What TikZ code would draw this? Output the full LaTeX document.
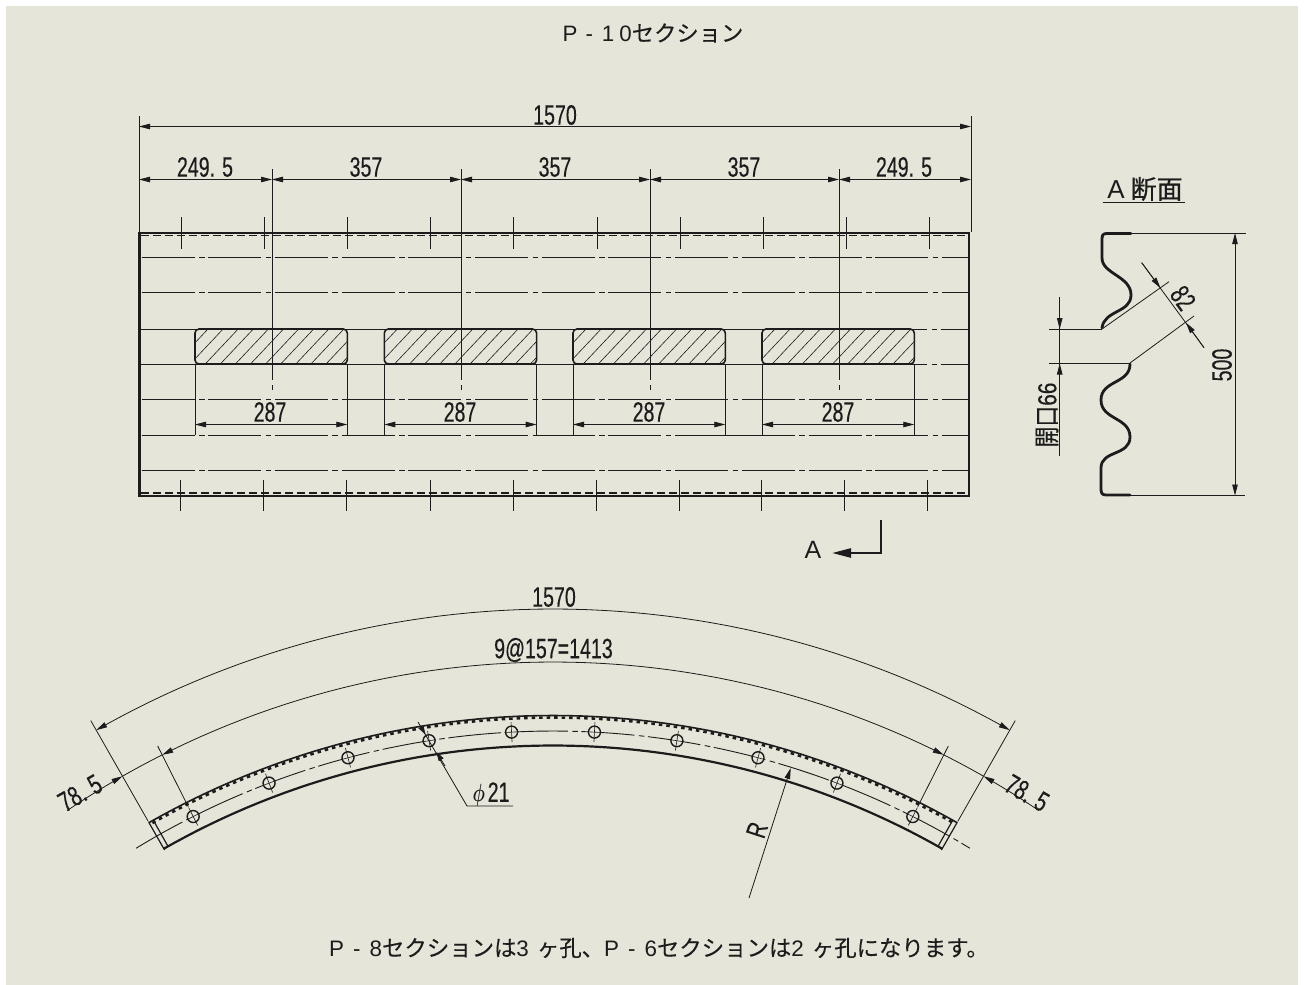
\documentclass[tikz,border=0pt]{standalone}
\usepackage{fontspec}
\setmainfont{Liberation Sans}
\newfontfamily\jp[FakeBold=.15]{Noto Sans CJK JP}
\newfontfamily\jpb[FakeBold=.4]{Noto Sans CJK JP}
\newfontfamily\dimfont[FakeBold=.35]{Liberation Sans}
\usetikzlibrary{arrows.meta}
\definecolor{paper}{HTML}{E6E5D9}
\definecolor{ink}{HTML}{1C1C1C}
\newcommand{\dimtext}[1]{\scalebox{.7}[1]{\fontsize{28}{28}\dimfont #1}}
\newcommand{\pol}[2]{({553+(#2)*sin(#1)},{1531-(#2)*cos(#1)})}
\tikzset{
  thin line/.style={draw=ink,line width=.8pt},
  dim/.style={thin line,{Triangle[length=11pt,width=5.5pt]}-{Triangle[length=11pt,width=5.5pt]}},
  onetip/.style={thin line,-{Triangle[length=11pt,width=5.5pt]}},
  chain/.style={draw=ink,line width=.9pt,dash pattern=on 53pt off 4.5pt on 5.5pt off 3.7pt},
  outline/.style={draw=ink,line width=2pt},
  hatch/.style={draw=ink,line width=.6pt},
  label/.style={inner sep=0pt,text=ink},
  profile/.style={draw=ink,line width=2.8pt,line cap=round,line join=round},
}
\begin{document}
\begin{tikzpicture}[x=1pt,y=-1pt]
\useasboundingbox (0,0) rectangle (1304,985);
\fill[white] (0,0) rectangle (1304,985);
\fill[paper] (6,6) rectangle (1298,985);

% title
\node[label,font=\fontsize{22.3}{23}\selectfont] (title) at (653,33) {P\kern8pt-\kern9pt1\kern5pt0{\jp セクション}};
\node[label,anchor=west,font=\fontsize{22.4}{23}\selectfont] (note) at (329,948)
  {P\kern9pt-\kern9pt8{\jp セクションは}3\kern8pt{\jp ヶ孔、}P\kern9pt-\kern9pt6{\jp セクションは}2\kern8pt{\jp ヶ孔になります。}};

% ===== top view =====
\draw[thin line] (139,116) -- (139,232);
\draw[thin line] (971,116) -- (971,232);
\draw[dim] (139,126.5) -- (971,126.5);
\node[label] (d1570a) at (555,115) {\dimtext{1570}};

\foreach \x in {272,461,650,839} {
  \draw[thin line] (\x,169) -- (\x,380);
  \draw[thin line] (\x,385) -- (\x,390);
}
\draw[dim] (139,179.5) -- (272,179.5);
\draw[dim] (272,179.5) -- (461,179.5);
\draw[dim] (461,179.5) -- (650,179.5);
\draw[dim] (650,179.5) -- (839,179.5);
\draw[dim] (839,179.5) -- (971,179.5);
\node[label] (dA) at (205,167) {\dimtext{249.\kern10pt5}};
\node[label] (dB) at (366,167) {\dimtext{357}};
\node[label] (dC) at (555,167) {\dimtext{357}};
\node[label] (dD) at (744,167) {\dimtext{357}};
\node[label] (dE) at (904,167) {\dimtext{249.\kern10pt5}};

% chain lines
\foreach \y in {257.5,292.5,399.5,435,470.5} \draw[chain] (141.5,\y) -- (968,\y);
\foreach \y in {329,364} {
  \draw[thin line] (141,\y) -- (914,\y);
  \draw[chain,dash phase=40pt] (914,\y) -- (968,\y);
}
\foreach \x in {347.3,536.7,725.5} \draw[thin line] (\x,435) -- ({\x+37},435);

% outer contour
\draw[draw=ink,line width=1.4pt] (138,233) -- (970,233);
\draw[draw=ink,line width=2pt] (138,495.5) -- (970,495.5);
\draw[draw=ink,line width=3pt] (139.5,232.5) -- (139.5,496);
\draw[draw=ink,line width=2.5pt] (969,232.5) -- (969,496);
\draw[draw=ink,line width=1.8pt,dash pattern=on 8pt off 4pt] (141,235.5) -- (968,235.5);
\draw[draw=ink,line width=1.8pt,dash pattern=on 8pt off 4pt] (141,493) -- (968,493);

% ticks
\foreach \x in {181,264,347.5,430.5,513.5,597,680,763,846,929} \draw[thin line] (\x,217) -- (\x,249);
\foreach \x in {180,263,346.5,430,513,596,679,761.5,844.5,927.5} \draw[thin line] (\x,480) -- (\x,511);

% slots
\foreach \sx/\nm/\cx in {195/a/270,384.3/b/460,573/c/649,762/d/838} {
  \begin{scope}
    \clip[rounded corners=4pt] (\sx,329) rectangle ++(152.3,35);
    \foreach \k in {0,...,12} \draw[hatch] ({\sx+15.1*\k-20},364) -- ++(33,-35);
  \end{scope}
  \draw[outline,rounded corners=4pt,line width=1.6pt] (\sx,329) rectangle ++(152.3,35);
  \draw[thin line] (\sx,364) -- (\sx,435);
  \draw[thin line] ({\sx+152.3},364) -- ({\sx+152.3},435);
  \draw[dim] (\sx,424.5) -- ({\sx+152.3},424.5);
  \node[label] (w\nm) at (\cx,412) {\dimtext{287}};
}

% section mark
\node[label,font=\fontsize{25}{25}\selectfont] (markA) at (813,550) {A};
\coordinate (markTop) at (881,520);
\coordinate (markCorner) at (881,553);
\coordinate (markTip) at (832,553);
\draw[draw=ink,line width=2.5pt,-{Triangle[length=19pt,width=9pt]}] (markTop) -- (markCorner) -- (markTip);

% ===== section A =====
\node[label,font=\fontsize{26}{26}\selectfont] (secA) at (1145,189) {A\kern6pt{\jpb 断面}};
\draw[thin line,line width=1pt] (1102.5,202) -- (1185,202);

\draw[profile] (1131,233.5) -- (1107,233.5) .. controls (1103,233.5) and (1102,235) .. (1102,239) -- (1102,258)
  .. controls (1102,274) and (1131,276) .. (1131,295)
  .. controls (1131,313) and (1104,310) .. (1102,328);
\draw[profile] (1130,364) .. controls (1130,384) and (1101,380) .. (1101,400)
  .. controls (1101,420) and (1130,417) .. (1130,437)
  .. controls (1130,456) and (1101,450) .. (1101,468) -- (1101,489)
  .. controls (1101,493) and (1102,495) .. (1106,495) -- (1130,495);

\draw[thin line] (1131,233) -- (1246,233);
\draw[thin line] (1130,495.5) -- (1245,495.5);
\draw[dim] (1235,233) -- (1235,495.5);
\node[label,rotate=90] (d500) at (1222,365) {\dimtext{500}};

\draw[thin line] (1049,329) -- (1102,329);
\draw[thin line] (1049,363.5) -- (1130,363.5);
\draw[thin line] (1059.7,297) -- (1059.7,456);
\draw[onetip] (1059.7,456) -- (1059.7,363.5);
\draw[onetip] (1059.7,297) -- (1059.7,329);
\node[label,rotate=90] (d66) at (1047,415) {\scalebox{.8}[1]{\fontsize{26}{26}\dimfont{\jpb 開口}66}};

\draw[thin line] (1102,329) -- (1169,281.7);
\draw[thin line] (1130,363) -- (1194,316);
\draw[thin line] (1141.7,262.7) -- (1204,347.7);
\draw[onetip] (1141.7,262.7) -- (1160.5,288);
\draw[onetip] (1204,347.7) -- (1186,322.7);
\node[label,rotate=-54] (d82) at (1183,298) {\dimtext{82}};

% ===== bent view =====
\draw[chain] plot[domain=-31.4:31.4,samples=160,variable=\t] ({553+800*sin(\t)},{1531-800*cos(\t)});
\draw[draw=ink,line width=1.6pt] plot[domain=-29.7:29.7,samples=160,variable=\t] ({553+815.5*sin(\t)},{1531-815.5*cos(\t)});
\draw[draw=ink,line width=2.6pt,dash pattern=on 3.5pt off 4pt] plot[domain=-29.5:29.5,samples=160,variable=\t] ({553+813.5*sin(\t)},{1531-813.5*cos(\t)});
\draw[draw=ink,line width=2.2pt] plot[domain=-29.7:29.7,samples=160,variable=\t] ({553+785.5*sin(\t)},{1531-785.5*cos(\t)});
\foreach \s in {-1,1} {
  \draw[draw=ink,line width=1.2pt] \pol{\s*29.7}{816} -- \pol{\s*29.7}{784};
  \draw[draw=ink,line width=1.2pt] \pol{\s*29.35}{816} -- \pol{\s*29.35}{785};
}
% holes
\foreach \a in {-26.73,-20.79,-14.85,-8.91,-2.97,2.97,8.91,14.85,20.79,26.73} {
  \filldraw[fill=paper,draw=ink,line width=1.4pt] \pol{\a}{800} circle[radius=6pt];
  \draw[draw=ink,line width=.6pt] \pol{\a}{790} -- \pol{\a}{810};
  \draw[draw=ink,line width=.6pt] \pol{\a-.5}{800} -- \pol{\a+.5}{800};
}
% extension lines
\foreach \s in {-1,1} {
  \draw[thin line] \pol{\s*29.7}{817} -- \pol{\s*29.7}{933};
  \draw[thin line] \pol{\s*26.73}{811} -- \pol{\s*26.73}{879};
}
% dimension arcs
\draw[dim] plot[domain=-29.7:29.7,samples=160,variable=\t] ({553+922*sin(\t)},{1531-922*cos(\t)});
\draw[dim] plot[domain=-26.73:26.73,samples=160,variable=\t] ({553+869*sin(\t)},{1531-869*cos(\t)});
\draw[thin line] plot[domain=-26.73:-29.7,samples=20,variable=\t] ({553+869*sin(\t)},{1531-869*cos(\t)});
\draw[thin line] plot[domain=26.73:29.7,samples=20,variable=\t] ({553+869*sin(\t)},{1531-869*cos(\t)});
\draw[onetip] plot[domain=-34:-29.7,samples=20,variable=\t] ({553+869*sin(\t)},{1531-869*cos(\t)});
\draw[onetip] plot[domain=34:29.7,samples=20,variable=\t] ({553+869*sin(\t)},{1531-869*cos(\t)});
\node[label] (arc1570) at (554,597) {\dimtext{1570}};
\node[label] (arc9) at (553.5,650) {\dimtext{9@157=1413}};
\node[label,rotate=30] (l785) at (80,793) {\dimtext{78.\kern10pt5}};
\node[label,rotate=-30] (r785) at (1027,793) {\dimtext{78.\kern10pt5}};

% phi leader
\coordinate (phiA) at (418,722);
\coordinate (phiB) at (467,806);
\coordinate (phiC) at (513,806);
\draw[thin line] (phiA) -- (phiB) -- (phiC);
\draw[thin line,-{Triangle[length=9pt,width=5.5pt]}] (421,727) -- (425.5,734.5);
\draw[thin line,-{Triangle[length=9pt,width=5.5pt]}] (445,766) -- (436.5,752);
\node[label] (phi) at (491,794.5) {\dimtext{{\boldmath$\phi$}\kern4pt21}};

% R leader
\coordinate (rFoot) at (749,898);
\coordinate (rTip) at (790.7,768);
\draw[onetip] (rFoot) -- (rTip);
\node[label,rotate=72] (rlabel) at (757,830) {\dimtext{R}};
\end{tikzpicture}
\end{document}
